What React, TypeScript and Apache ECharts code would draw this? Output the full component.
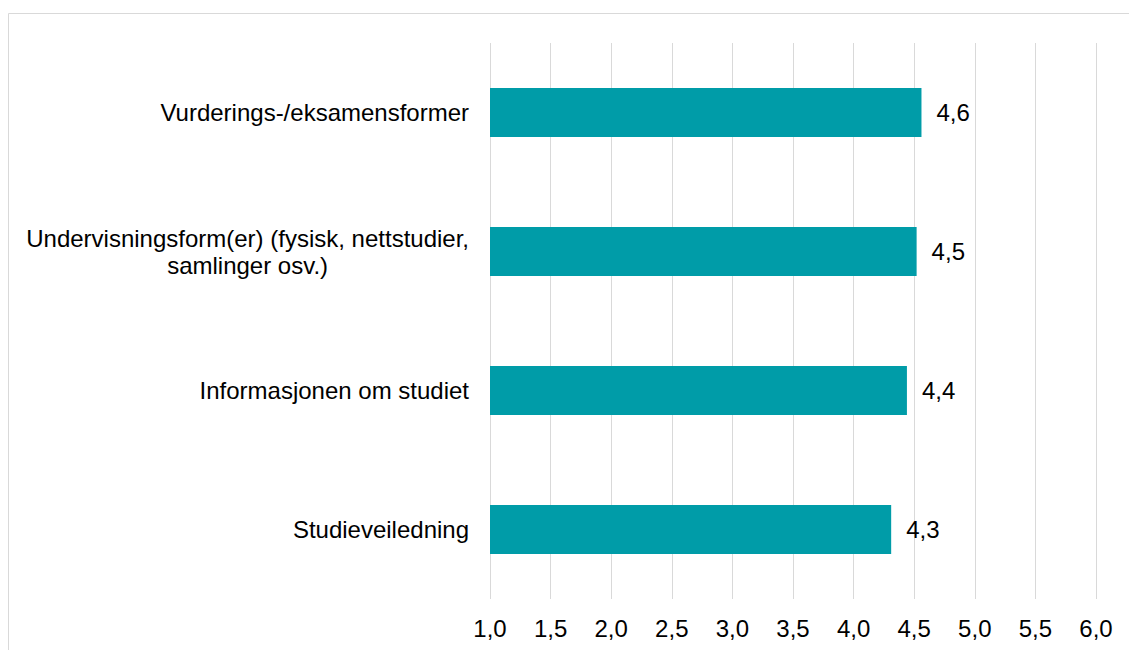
import React, { useEffect, useRef } from "react";
import * as echarts from "echarts";

const categories = [
  "Vurderings-/eksamensformer",
  "Undervisningsform(er) (fysisk, nettstudier,\nsamlinger osv.)",
  "Informasjonen om studiet",
  "Studieveiledning",
];
const values = [4.56, 4.52, 4.44, 4.31];
const axisMin = 1;
const axisMax = 6;
const axisInterval = 0.5;

const fmt = (v: number) => v.toFixed(1).replace(".", ",");

export default function App() {
  const ref = useRef<HTMLDivElement>(null);
  useEffect(() => {
    if (!ref.current) return;
    const chart = echarts.init(ref.current, null, { renderer: "svg" });
    const font = "'Liberation Sans', Arial, sans-serif";
    chart.setOption({
      animation: false,
      backgroundColor: "#ffffff",
      textStyle: { fontFamily: font },
      graphic: [
        {
          type: "rect",
          shape: { x: 8.5, y: 13.5, width: 1300, height: 800 },
          style: { fill: "none", stroke: "#d9d9d9", lineWidth: 1 },
          silent: true,
        },
      ],
      grid: { left: 490, right: 33, top: 43, bottom: 51, containLabel: false },
      xAxis: {
        type: "value",
        min: axisMin,
        max: axisMax,
        interval: axisInterval,
        axisLine: { show: false },
        axisTick: { show: false },
        splitLine: { show: true, lineStyle: { color: "#d9d9d9", width: 1 } },
        axisLabel: {
          fontSize: 24,
          color: "#000",
          fontFamily: font,
          margin: 17,
          formatter: (v: number) => fmt(v),
        },
      },
      yAxis: {
        type: "category",
        inverse: true,
        data: categories,
        axisLine: { show: false },
        axisTick: { show: false },
        splitLine: { show: false },
        axisLabel: {
          fontSize: 24,
          color: "#000",
          fontFamily: font,
          margin: 21,
          lineHeight: 27,
          formatter: (v: string) =>
            v
              .split("\n")
              .map((l) => `{c|${l}}`)
              .join("\n"),
          rich: {
            c: {
              align: "center",
              fontSize: 24,
              lineHeight: 27,
              color: "#000",
              fontFamily: font,
            },
          },
        },
      },
      series: [
        {
          type: "bar",
          data: values,
          barWidth: 49,
          itemStyle: { color: "#009ca8" },
          label: {
            show: true,
            position: "right",
            distance: 15,
            fontSize: 24,
            color: "#000",
            fontFamily: font,
            formatter: (p: any) => fmt(p.value),
          },
        },
      ],
    });
    return () => chart.dispose();
  }, []);
  return (
    <div
      ref={ref}
      style={{ position: "fixed", left: 0, top: 0, width: 1129, height: 650 }}
    />
  );
}
